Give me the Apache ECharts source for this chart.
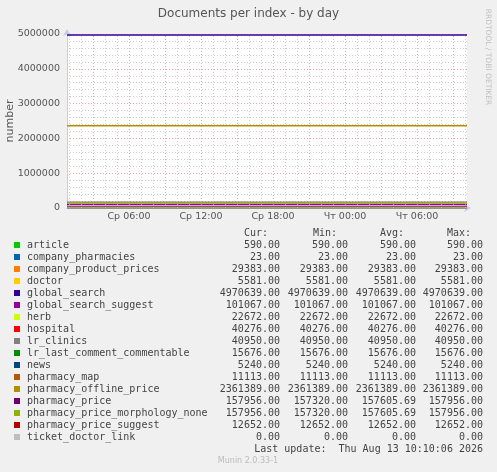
<!DOCTYPE html>
<html>
<head>
<meta charset="utf-8">
<script src="https://cdn.jsdelivr.net/npm/echarts@6/dist/echarts.min.js"></script>
<style>
html,body{margin:0;padding:0;background:#f0f0f0;}
#chart{width:497px;height:472px;}
</style>
</head>
<body>
<div id="chart"></div>
<script>
// ---- data ----
const seriesNames = ['article','company_pharmacies','company_product_prices','doctor','global_search','global_search_suggest','herb','hospital','lr_clinics','lr_last_comment_commentable','news','pharmacy_map','pharmacy_offline_price','pharmacy_price','pharmacy_price_morphology_none','pharmacy_price_suggest','ticket_doctor_link'];
const seriesColors = ['#00CC00','#0066B3','#FF8000','#FFCC00','#330099','#990099','#CCFF00','#FF0000','#808080','#008F00','#00487D','#B35A00','#B38F00','#6B006B','#8FB300','#B30000','#BEBEBE'];
const curValues = [590,23,29383,5581,4970639,101067,22672,40276,40950,15676,5240,11113,2361389,157956,157956,12652,0];
const minValues = [590,23,29383,5581,4970639,101067,22672,40276,40950,15676,5240,11113,2361389,157320,157320,12652,0];
const avgValues = [590,23,29383,5581,4970639,101067,22672,40276,40950,15676,5240,11113,2361389,157605.69,157605.69,12652,0];
const maxValues = [590,23,29383,5581,4970639,101067,22672,40276,40950,15676,5240,11113,2361389,157956,157956,12652,0];
// time in hours since Wed 00:00
const timeSpan = [0.8333, 34.1667];
const priceTimes = [0.8333, 19.2, 19.2, 34.1667];
const priceValues = [157320, 157320, 157956, 157956];
const majorHours = [3,6,9,12,15,18,21,24,27,30,33];
const minorHours = [1,2,4,5,7,8,10,11,13,14,16,17,19,20,22,23,25,26,28,29,31,32,34];
const labelHours = [6,12,18,24,30];
const labelTexts = ['Ср 06:00','Ср 12:00','Ср 18:00','Чт 00:00','Чт 06:00'];

// ---- build ----
const majorCol = 'rgba(240,140,140,0.8)';
const minorCol = 'rgba(190,190,190,0.75)';
const gridSeries = {
  name: '_grid', type: 'line', data: [], silent: true, animation: false, z: 1,
  markLine: {
    silent: true, symbol: ['none','none'], animation: false,
    label: {show: false},
    data: minorHours.map(h => ({xAxis: h, lineStyle: {color: minorCol, type: [1, 2], width: 1}}))
      .concat(majorHours.map(h => ({xAxis: h, lineStyle: {color: majorCol, type: [1, 2], width: 1}})))
  }
};
const series = [gridSeries].concat(seriesNames.map((n, i) => {
  let data;
  if (n === 'pharmacy_price' || n === 'pharmacy_price_morphology_none') {
    data = priceTimes.map((t, k) => [t, priceValues[k]]);
  } else {
    data = [[timeSpan[0], curValues[i]], [timeSpan[1], curValues[i]]];
  }
  return {
    name: n, type: 'line', data: data, showSymbol: false, symbol: 'none', z: 2,
    lineStyle: {color: seriesColors[i], width: 1.4},
    itemStyle: {color: seriesColors[i]},
    animation: false, silent: true
  };
}));

const mono = '10px "DejaVu Sans Mono"';
const textCol = '#444';
const graphics = [];
const colX = [280, 348, 416, 483];
const headX = [244, 313, 380, 447];
['Cur:','Min:','Avg:','Max:'].forEach((h, k) => {
  graphics.push({type:'text', x: headX[k], y: 233, style:{text:h, font:mono, fill:textCol, textAlign:'left', textVerticalAlign:'middle', textBaseline:'middle'}});
});
const cols = [curValues, minValues, avgValues, maxValues];
seriesNames.forEach((n, i) => {
  const yc = 245 + i * 12;
  graphics.push({type:'rect', shape:{x:14, y:yc-3, width:6, height:6}, style:{fill:seriesColors[i]}});
  graphics.push({type:'text', x:27, y:yc, style:{text:n, font:mono, fill:textCol, textAlign:'left', textVerticalAlign:'middle', textBaseline:'middle'}});
  cols.forEach((arr, k) => {
    graphics.push({type:'text', x: colX[k], y: yc, style:{text: arr[i].toFixed(2), font:mono, fill:textCol, textAlign:'right', textVerticalAlign:'middle', textBaseline:'middle'}});
  });
});
graphics.push({type:'text', x:483, y:449, style:{text:'Last update:  Thu Aug 13 10:10:06 2026', font:mono, fill:textCol, textAlign:'right', textVerticalAlign:'middle', textBaseline:'middle'}});
graphics.push({type:'text', x:248, y:461, style:{text:'Munin 2.0.33-1', font:'8px "DejaVu Sans"', fill:'#bbbbbb', textAlign:'center', textVerticalAlign:'middle', textBaseline:'middle'}});
graphics.push({type:'text', x:488, y:57, rotation:-Math.PI/2, style:{text:'RRDTOOL / TOBI OETIKER', font:'7.5px "DejaVu Sans"', fill:'#c0c0c0', textAlign:'center', textVerticalAlign:'middle', textBaseline:'middle'}});

const axisCol = '#c8c8f4';
const option = {
  backgroundColor: '#f0f0f0',
  animation: false,
  title: {text: 'Documents per index - by day', left: 'center', top: 3,
    textStyle: {fontFamily: 'DejaVu Sans', fontSize: 12, fontWeight: 'normal', color: '#555'}},
  grid: {left: 67, right: 30, top: 34, bottom: 264, show: true, backgroundColor: '#ffffff', borderWidth: 0,
    containLabel: false, outerBoundsMode: 'none'},
  xAxis: {
    type: 'value', min: timeSpan[0], max: timeSpan[1],
    axisLine: {show: true, onZero: false, lineStyle: {color: axisCol, width: 1}, symbol: ['none','arrow'], symbolSize: [6, 7], symbolOffset: [0, 4]},
    axisTick: {show: false, customValues: majorHours},
    splitLine: {show: false},
    axisLabel: {customValues: labelHours, margin: 4, color: '#555', fontFamily: 'DejaVu Sans', fontSize: 9.5,
      formatter: v => { const k = labelHours.indexOf(v); return k >= 0 ? labelTexts[k] : ''; }}
  },
  yAxis: {
    type: 'value', min: 0, max: 5000000, interval: 1000000,
    name: 'number', nameLocation: 'middle', nameGap: 51, nameMoveOverlap: false,
    nameTextStyle: {fontFamily: 'DejaVu Sans', fontSize: 11, color: '#555'},
    axisLine: {show: true, lineStyle: {color: axisCol, width: 1}, symbol: ['none','arrow'], symbolSize: [6, 7], symbolOffset: [0, 5]},
    axisTick: {show: false},
    minorTick: {show: false, splitNumber: 5},
    minorSplitLine: {show: true, lineStyle: {color: minorCol, type: [1, 2], width: 1}},
    splitLine: {show: true, lineStyle: {color: majorCol, type: [1, 2], width: 1}},
    axisLabel: {margin: 7, color: '#555', fontFamily: 'DejaVu Sans', fontSize: 9.5, formatter: v => String(v)}
  },
  series: series,
  graphic: graphics
};
const chart = echarts.init(document.getElementById('chart'), null, {renderer: 'canvas'});
chart.setOption(option);
</script>
</body>
</html>
